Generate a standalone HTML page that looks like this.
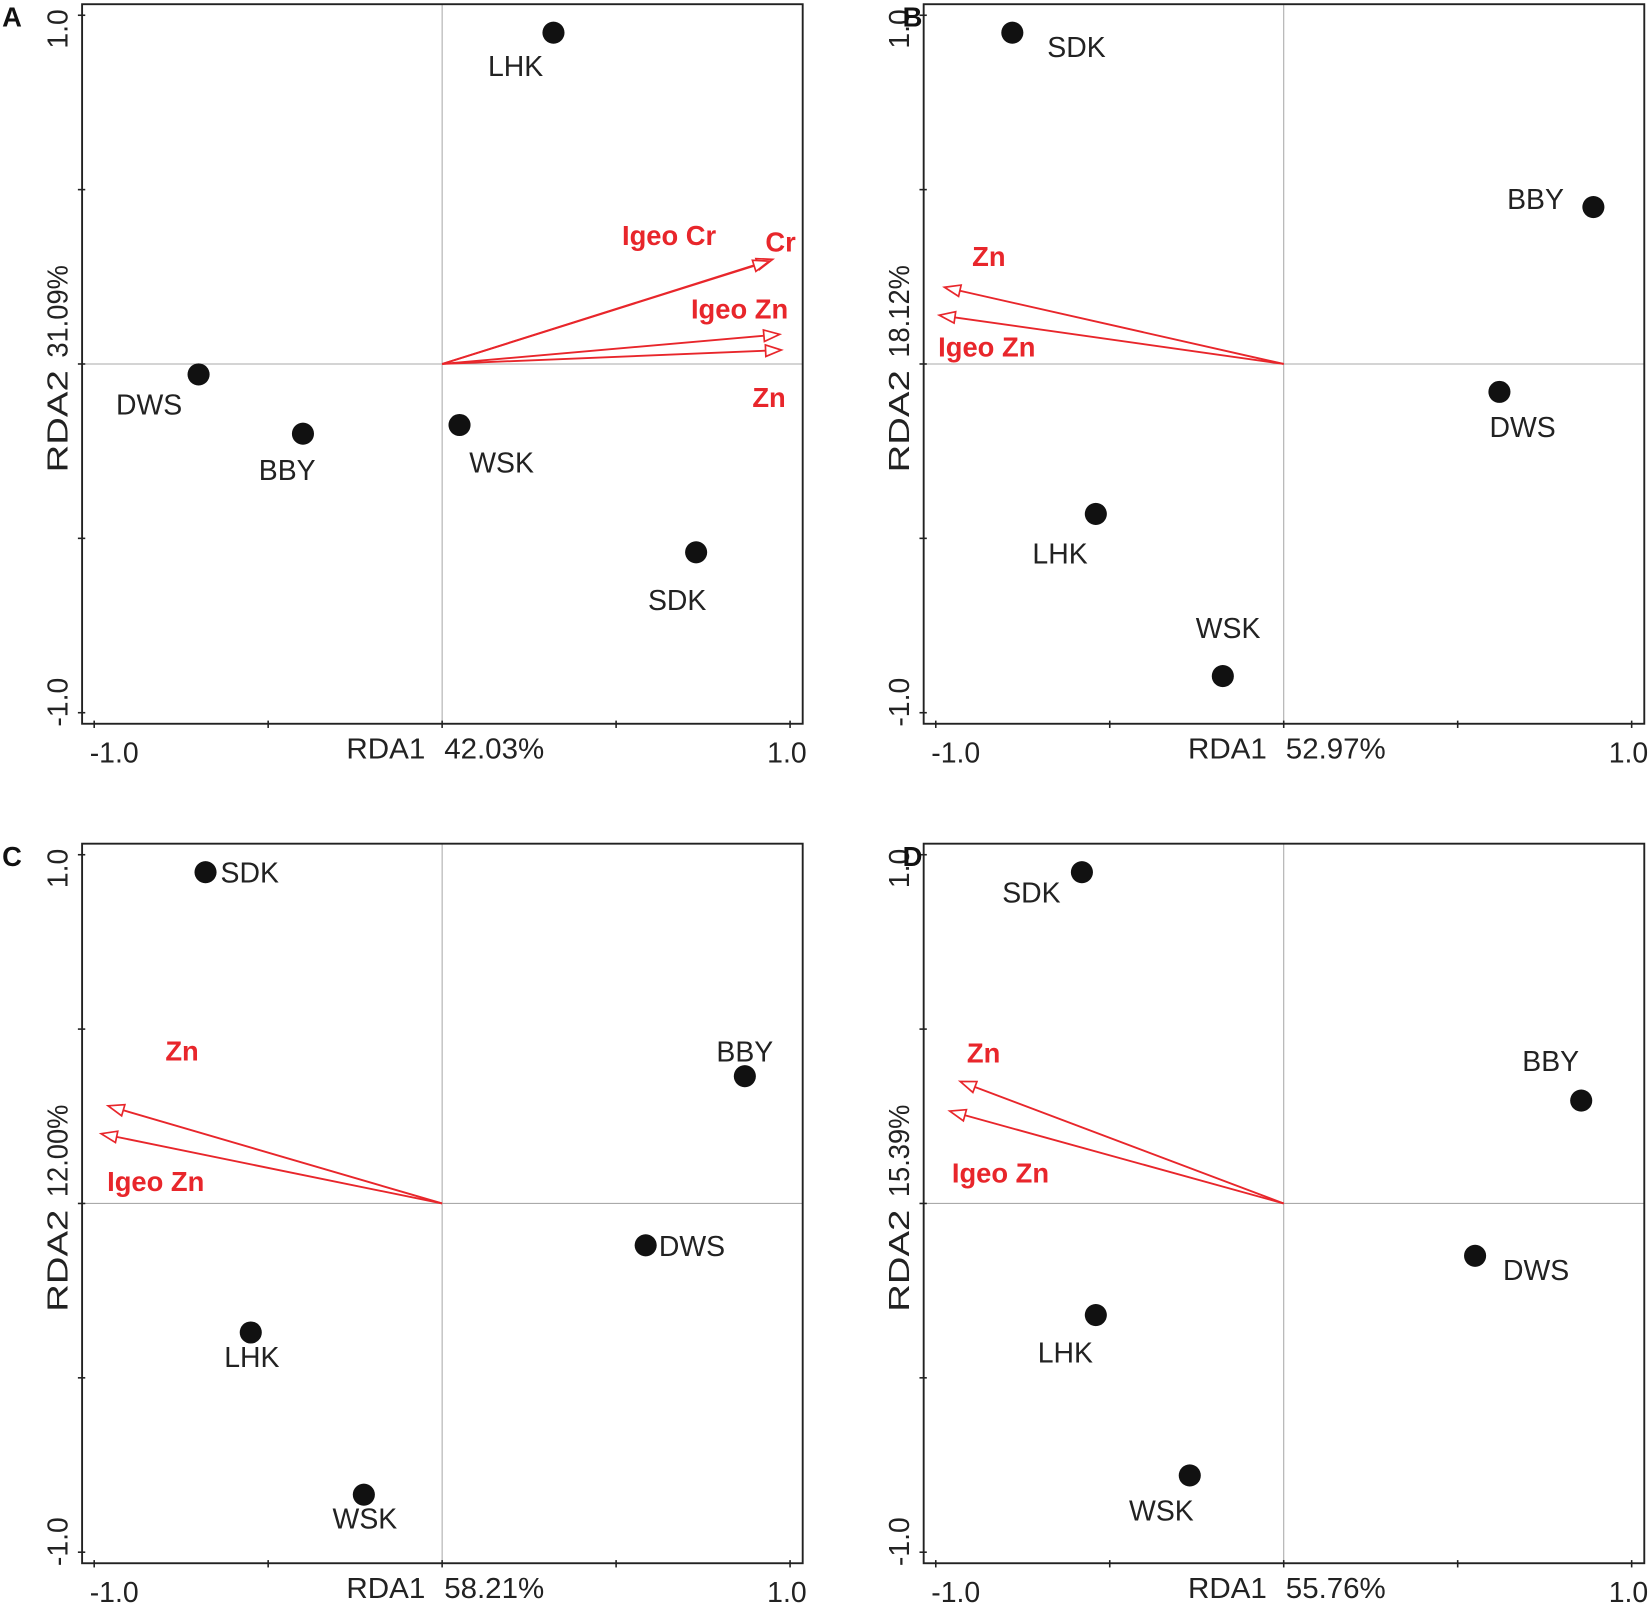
<!DOCTYPE html>
<html><head><meta charset="utf-8">
<style>
html,body{margin:0;padding:0;background:#fff;}
svg{display:block;}
text{font-family:"Liberation Sans",Arial,sans-serif;}
</style></head>
<body>
<svg id="fig" width="1650" height="1607" viewBox="0 0 1568.4 1527.6" xmlns="http://www.w3.org/2000/svg"></svg>
<script>
// ---- data ----
const panelIds = ["A","B","C","D"];
const axisPct1 = ["42.03%","52.97%","58.21%","55.76%"];
const axisPct2 = ["31.09%","18.12%","12.00%","15.39%"];
const siteNames = ["LHK","DWS","BBY","WSK","SDK"];
const siteX = [
  [0.32,-0.70,-0.40,0.05,0.73],
  [-0.54,0.62,0.89,-0.175,-0.78],
  [-0.55,0.585,0.87,-0.225,-0.68],
  [-0.54,0.55,0.855,-0.27,-0.58]
];
const siteY = [
  [0.95,-0.03,-0.20,-0.175,-0.54],
  [-0.43,-0.08,0.45,-0.895,0.95],
  [-0.37,-0.12,0.365,-0.835,0.95],
  [-0.32,-0.15,0.295,-0.78,0.95]
];
const varNames = [
  ["Cr","Igeo Cr","Igeo Zn","Zn"],
  ["Zn","Igeo Zn"],
  ["Zn","Igeo Zn"],
  ["Zn","Igeo Zn"]
];
const varX = [
  [0.95,0.94,0.97,0.975],
  [-0.975,-0.99],
  [-0.96,-0.98],
  [-0.93,-0.96]
];
const varY = [
  [0.30,0.295,0.085,0.04],
  [0.22,0.14],
  [0.28,0.20],
  [0.35,0.265]
];
const tickVals = [-1,-0.5,0,0.5,1];
const tickLabels = ["-1.0","1.0"];

// ---- layout (not data) ----
const boxes = [
  {l:78,t:4,r:763,b:688},
  {l:878,t:4,r:1563,b:688},
  {l:78,t:802,r:763,b:1486},
  {l:878,t:802,r:1563,b:1486}
];
const siteLabelOff = [
  [[-36,32],[-47,29],[-15,35],[40,36],[-18,46]],
  [[-34,38],[22,34],[-55,-7],[5,-45],[61,14]],
  [[1,24],[44,1],[0,-23],[1,23],[42,1]],
  [[-29,36],[58,14],[-29,-37],[-27,34],[-48,20]]
];
const varLabelPos = [
  [[742,230],[636,224],[703,294],[731,378]],
  [[940,244],[938,330]],
  [[173,999],[148,1123]],
  [[935,1001],[951,1115]]
];
const RED="#e8262b";
const NS="http://www.w3.org/2000/svg";
const svg=document.getElementById("fig");
function mk(tag,attrs,parent){const e=document.createElementNS(NS,tag);for(const k in attrs)e.setAttribute(k,attrs[k]);(parent||svg).appendChild(e);return e;}

panelIds.forEach((pid,p)=>{
  const B=boxes[p];
  const g=mk("g",{});
  
  
  const x0=B.l+11.5, x1=B.r-12, y0=B.t+10.5, y1=B.b-10.5;
  const sx=v=>x0+(v+1)/2*(x1-x0);
  const sy=v=>y1-(v+1)/2*(y1-y0);
  const zx=mk("line",{x1:sx(0),x2:sx(0),y1:B.t,y2:B.b,stroke:"#aaa","stroke-width":1},g);
  
  
  const zy=mk("line",{x1:B.l,x2:B.r,y1:sy(0),y2:sy(0),stroke:"#aaa","stroke-width":1},g);
  
  
  const fr=mk("rect",{x:B.l,y:B.t,width:B.r-B.l,height:B.b-B.t,fill:"none",stroke:"#222","stroke-width":1.8},g);
  
  
  tickVals.forEach(v=>{
    const t1=mk("line",{x1:sx(v),x2:sx(v),y1:B.b-3,y2:B.b+4,stroke:"#222","stroke-width":1.5},g);
    
    
    const t2=mk("line",{x1:B.l-4,x2:B.l+3,y1:sy(v),y2:sy(v),stroke:"#222","stroke-width":1.5},g);
    
    
  });
  [[-1,tickLabels[0]],[1,tickLabels[1]]].forEach(([v,s])=>{
    const tx=mk("text",{x:sx(v)+ (v<0?19:-3),y:B.b+37,"font-size":27,"text-anchor":"middle",fill:"#222"},g);
    tx.textContent=s;
    
    
    const cy=sy(v)+(v<0?-10:13);
    const ty=mk("text",{x:0,y:0,"font-size":27,"text-anchor":"middle",fill:"#222",transform:`translate(${B.l-14},${cy}) rotate(-90)`},g);
    ty.textContent=s;
    
    
  });
  const xa=mk("text",{x:sx(0)-16,y:B.b+33,"font-size":27,"text-anchor":"end",fill:"#222",textLength:75,lengthAdjust:"spacingAndGlyphs"},g);
  xa.textContent="RDA1";
  
  
  const xp=mk("text",{x:sx(0)+2,y:B.b+33,"font-size":27,"text-anchor":"start",fill:"#222",textLength:95,lengthAdjust:"spacingAndGlyphs"},g);
  xp.textContent=axisPct1[p];
  
  
  const ya=mk("text",{x:0,y:0,"font-size":27,"text-anchor":"end",fill:"#222",textLength:97,lengthAdjust:"spacingAndGlyphs",transform:`translate(${B.l-14},${sy(0)+6}) rotate(-90)`},g);
  ya.textContent="RDA2";
  
  
  const yp=mk("text",{x:0,y:0,"font-size":27,"text-anchor":"start",fill:"#222",textLength:88,lengthAdjust:"spacingAndGlyphs",transform:`translate(${B.l-14},${sy(0)-6}) rotate(-90)`},g);
  yp.textContent=axisPct2[p];
  
  
  const pl=mk("text",{x:B.l-(p%2?20:76),y:B.t+21,"font-size":26,"font-weight":"bold",fill:"#111"},g);
  pl.textContent=pid;
  
  
  varNames[p].forEach((nm,i)=>{
    const ox=sx(0),oy=sy(0),tx=sx(varX[p][i]),ty=sy(varY[p][i]);
    const dx=tx-ox,dy=ty-oy,L=Math.hypot(dx,dy),ux=dx/L,uy=dy/L;
    const hl=15,hw=5.5,bx=tx-ux*hl,by=ty-uy*hl;
    const ln=mk("line",{x1:ox,y1:oy,x2:bx,y2:by,stroke:RED,"stroke-width":1.8},g);
    
    
    const hd=mk("polygon",{points:`${tx},${ty} ${bx-uy*hw},${by+ux*hw} ${bx+uy*hw},${by-ux*hw}`,fill:"#fff",stroke:RED,"stroke-width":1.6},g);
    
    
    const lp=varLabelPos[p][i];
    const lt=mk("text",{x:lp[0],y:lp[1]+9,"font-size":26,"font-weight":"bold","text-anchor":"middle",fill:RED},g);
    lt.textContent=nm;
    
    
  });
  siteNames.forEach((nm,i)=>{
    const cx=sx(siteX[p][i]),cy=sy(siteY[p][i]);
    const c=mk("circle",{cx:cx,cy:cy,r:10.5,fill:"#111"},g);
    
    
    const o=siteLabelOff[p][i];
    const t=mk("text",{x:cx+o[0],y:cy+o[1]+9,"font-size":27,"text-anchor":"middle",fill:"#222"},g);
    t.textContent=nm;
    
    
  });
});
</script>
</body></html>
